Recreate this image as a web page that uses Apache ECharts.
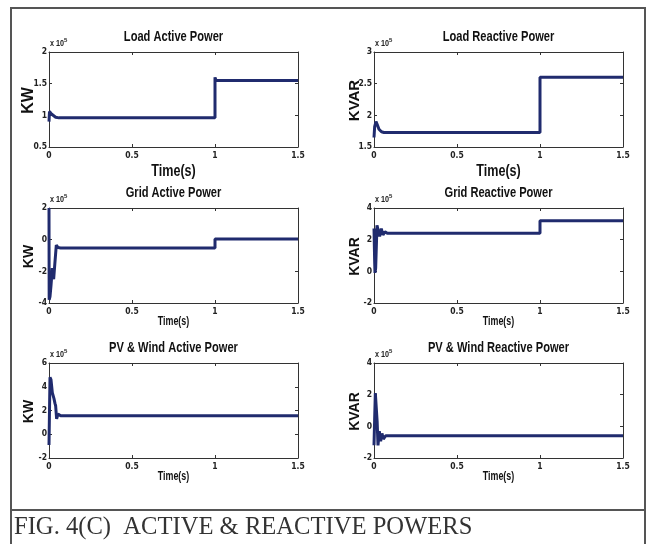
<!DOCTYPE html>
<html>
<head>
<meta charset="utf-8">
<script src="https://cdn.jsdelivr.net/npm/echarts@6/dist/echarts.min.js"></script>
<style>
html,body{margin:0;padding:0;background:#fff;}
#c{width:646px;height:544px;}
</style>
</head>
<body>
<div id="c"></div>
<script>
// ---- Data (values in units of x10^5) ----
const panelTitles = ["Load Active Power", "Load Reactive Power", "Grid Active Power", "Grid Reactive Power", "PV & Wind Active Power", "PV & Wind Reactive Power"];
const yNames = ["KW", "KVAR", "KW", "KVAR", "KW", "KVAR"];
const xTicks = [0, 0.5, 1, 1.5];
const yRanges = [[0.5, 2, 0.5], [1.5, 3, 0.5], [-4, 2, 2], [-2, 4, 2], [-2, 6, 2], [-2, 4, 2]];

const loadActiveT = [0, 0.003, 0.008, 0.015, 0.025, 0.04, 0.06, 0.1, 0.5, 1.0, 1.0, 1.006, 1.5];
const loadActiveV = [0.90, 1.06, 1.08, 1.02, 0.99, 0.97, 0.96, 0.96, 0.96, 0.96, 1.60, 1.55, 1.55];

const loadReactiveT = [0, 0.004, 0.012, 0.02, 0.03, 0.045, 0.06, 0.1, 1.0, 1.0, 1.5];
const loadReactiveV = [1.65, 1.82, 1.90, 1.85, 1.78, 1.74, 1.73, 1.73, 1.73, 2.60, 2.60];

const gridActiveT = [0, 0.001, 0.006, 0.012, 0.02, 0.028, 0.036, 0.044, 0.055, 0.07, 1.0, 1.0, 1.5];
const gridActiveV = [2.0, -3.8, -3.6, -2.9, -1.8, -2.5, -1.4, -0.35, -0.50, -0.52, -0.52, 0.05, 0.05];

const gridReactiveT = [0, 0.004, 0.006, 0.01, 0.018, 0.024, 0.034, 0.044, 0.054, 0.066, 0.08, 1.0, 1.0, 1.5];
const gridReactiveV = [2.7, 0.6, -0.1, 0.2, 2.9, 3.0, 2.2, 2.7, 2.3, 2.5, 2.4, 2.4, 3.2, 3.2];

const pvActiveT = [0, 0.003, 0.006, 0.012, 0.02, 0.03, 0.036, 0.04, 0.046, 0.054, 0.07, 1.5];
const pvActiveV = [-0.9, 2.0, 4.8, 4.6, 3.5, 3.0, 2.6, 2.4, 1.3, 1.7, 1.55, 1.55];

const pvReactiveT = [0, 0.004, 0.008, 0.014, 0.019, 0.024, 0.032, 0.04, 0.048, 0.056, 0.07, 1.5];
const pvReactiveV = [-1.2, 0.5, 2.1, 2.0, 0.3, -1.2, -0.3, -0.95, -0.45, -0.8, -0.6, -0.6];

const seriesT = [loadActiveT, loadReactiveT, gridActiveT, gridReactiveT, pvActiveT, pvReactiveT];
const seriesV = [loadActiveV, loadReactiveV, gridActiveV, gridReactiveV, pvActiveV, pvReactiveV];

// ---- Layout ----
const SANS = "'Liberation Sans', Arial, sans-serif";
const COND = "'DejaVu Sans Condensed', 'Liberation Sans', Arial, sans-serif";
const colLeft = [49, 374];
const rowTop = [52, 208, 363];
const boxW = 249, boxH = 95;
const lineColor = '#202b6e';
const axisColor = '#333';
const NARROW_SCALE = 0.74;

const chart = echarts.init(document.getElementById('c'), null, {renderer: 'canvas'});

const grids = [], xAxes = [], yAxes = [], series = [], graphics = [];

graphics.push({type: 'rect', shape: {x: 11, y: 8, width: 634, height: 560}, style: {fill: 'none', stroke: '#555', lineWidth: 2}, silent: true});
graphics.push({type: 'line', shape: {x1: 11, y1: 510, x2: 645, y2: 510}, style: {stroke: '#555', lineWidth: 2}, silent: true});
graphics.push({type: 'text', x: 14, y: 528, style: {text: 'FIG. 4(C)  ACTIVE & REACTIVE POWERS', font: "24.6px 'Liberation Serif', 'Times New Roman', serif", fill: '#333', textVerticalAlign: 'middle'}});

for (let i = 0; i < 6; i++) {
  const col = i % 2, row = Math.floor(i / 2);
  const L = colLeft[col], T = rowTop[row];
  grids.push({left: L, top: T, width: boxW, height: boxH, show: false, containLabel: false});
  const [ymin, ymax, yint] = yRanges[i];
  const tickStyle = {show: true, inside: true, length: 3, lineStyle: {color: axisColor, width: 1}};
  const lineStyle = {show: true, onZero: false, lineStyle: {color: axisColor, width: 1}};
  const lblX = {show: true, fontSize: 8.5, fontWeight: 'bold', fontFamily: COND, color: '#222', margin: 4};
  const lblY = {show: true, fontSize: 8.5, fontWeight: 'bold', fontFamily: COND, color: '#222', margin: 2};
  xAxes.push({type: 'value', gridIndex: i, position: 'bottom', min: xTicks[0], max: xTicks[xTicks.length - 1], interval: 0.5,
    axisLine: lineStyle, axisTick: tickStyle, axisLabel: lblX, splitLine: {show: false}});
  xAxes.push({type: 'value', gridIndex: i, position: 'top', min: xTicks[0], max: xTicks[xTicks.length - 1], interval: 0.5,
    axisLine: lineStyle, axisTick: tickStyle, axisLabel: {show: false}, splitLine: {show: false}});
  yAxes.push({type: 'value', gridIndex: i, position: 'left', min: ymin, max: ymax, interval: yint,
    axisLine: lineStyle, axisTick: tickStyle, axisLabel: lblY, splitLine: {show: false}});
  yAxes.push({type: 'value', gridIndex: i, position: 'right', min: ymin, max: ymax, interval: yint,
    axisLine: lineStyle, axisTick: tickStyle, axisLabel: {show: false}, splitLine: {show: false}});
  const data = seriesT[i].map((t, k) => [t, seriesV[i][k]]);
  series.push({type: 'line', xAxisIndex: 2 * i, yAxisIndex: 2 * i, data: data, showSymbol: false, symbol: 'none',
    lineStyle: {color: lineColor, width: 3, join: 'bevel'}, z: 5});

  // Panel title
  graphics.push({type: 'text', x: L + boxW / 2, y: T - 15, scaleX: NARROW_SCALE, style: {text: panelTitles[i], font: "bold 15px " + SANS, fill: '#111', textAlign: 'center', textVerticalAlign: 'middle'}});
  // Exponent "x 10^5"
  graphics.push({type: 'text', x: L + 1, y: T - 8, scaleX: 0.85, style: {text: 'x 10', font: "bold 8.5px " + SANS, fill: '#222', textVerticalAlign: 'middle'}});
  graphics.push({type: 'text', x: L + 15, y: T - 12, style: {text: '5', font: "bold 6px " + SANS, fill: '#222', textVerticalAlign: 'middle'}});
  // X axis name
  const big = row === 0;
  graphics.push({type: 'text', x: L + boxW / 2, y: big ? T + boxH + 24 : T + boxH + 19, scaleX: NARROW_SCALE,
    style: {text: 'Time(s)', font: (big ? "bold 17px " : "bold 12px ") + SANS, fill: '#111', textAlign: 'center', textVerticalAlign: 'middle'}});
  // Y axis name
  const ySize = big ? (col === 0 ? 16 : 15) : 14;
  graphics.push({type: 'text', x: col === 0 ? 29 : 355, y: T + boxH / 2 + 1, rotation: Math.PI / 2, style: {text: yNames[i], font: "bold " + ySize + "px " + SANS, fill: '#111', textAlign: 'center', textVerticalAlign: 'middle'}});
}

chart.setOption({
  animation: false,
  backgroundColor: '#fff',
  grid: grids,
  xAxis: xAxes,
  yAxis: yAxes,
  series: series,
  graphic: graphics
});
</script>
</body>
</html>
